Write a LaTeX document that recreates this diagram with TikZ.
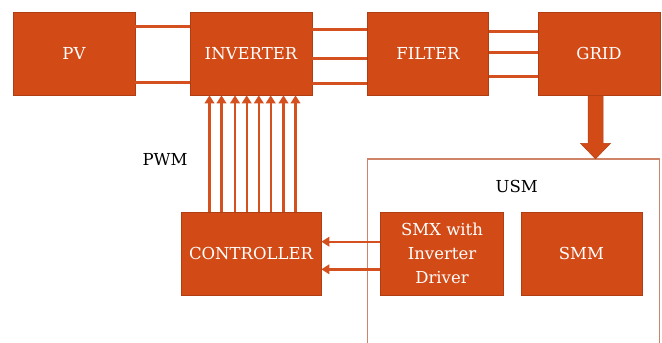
\documentclass[tikz,border=0pt]{standalone}
\usepackage{fontspec}
\setmainfont{DejaVu Serif}
\usetikzlibrary{arrows.meta}
\definecolor{boxfill}{HTML}{D24B17}
\definecolor{boxedge}{HTML}{B03E12}
\definecolor{wire}{HTML}{D4501E}
\definecolor{usmedge}{HTML}{CF8468}
\tikzset{
  blockbox/.style={rectangle, fill=boxfill, draw=boxedge, line width=0.7pt,
    minimum height=83pt, inner sep=2pt, text=white, align=center,
    font=\fontsize{16.5}{24}\selectfont},
  wireline/.style={draw=wire, line width=3pt},
  pwmarrow/.style={draw=wire, line width=2.4pt, -{Triangle[width=9.5pt,length=8pt]}},
  plainlabel/.style={text=black, font=\fontsize{16.5}{19}\selectfont, inner sep=0pt}
}
\begin{document}
\begin{tikzpicture}[x=1pt,y=1pt]
\useasboundingbox (0,0) rectangle (662,-343);
% top row
\node[blockbox, minimum width=122pt] (pv) at (74,-53.5) {PV};
\node[blockbox, minimum width=122pt] (inv) at (251,-53.5) {INVERTER};
\node[blockbox, minimum width=121pt] (flt) at (428,-53.5) {FILTER};
\node[blockbox, minimum width=122pt] (grid) at (599,-53.5) {GRID};
% bottom row
\node[blockbox, minimum width=140pt] (ctrl) at (251,-253.7) {CONTROLLER};
\node[blockbox, minimum width=122.6pt] (smx) at (442,-253.7) {SMX with\\Inverter\\Driver};
\node[blockbox, minimum width=121pt] (smm) at (581.4,-253.7) {SMM};
% labels
\node[plainlabel] (pwm) at (165,-159) {PWM};
\node[plainlabel] (usm) at (516.7,-186) {USM};
% USM container
\coordinate (usmbl) at (367.3,-345);
\coordinate (usmtl) at (367.3,-159);
\coordinate (usmtr) at (659.3,-159);
\coordinate (usmbr) at (659.3,-345);
\draw[usmedge, line width=1.2pt] (usmbl) -- (usmtl) -- (usmtr) -- (usmbr);
% PV - inverter
\draw[wireline] ([yshift=27.5pt]pv.east) -- ([yshift=27.5pt]inv.west);
\draw[wireline] ([yshift=-29.2pt]pv.east) -- ([yshift=-29.2pt]inv.west);
% inverter - filter
\foreach \dy in {24.2,-4.8,-29.8}
  \draw[wireline] ([yshift=\dy pt]inv.east) -- ([yshift=\dy pt]flt.west);
% filter - grid
\foreach \dy in {22.5,1.2,-23.2}
  \draw[wireline] ([yshift=\dy pt]flt.east) -- ([yshift=\dy pt]grid.west);
% PWM arrows
\foreach \dx in {-41.5,-29.5,-16,-4.3,7.8,19.7,32.5,44.5}
  \draw[pwmarrow] ([xshift=\dx pt]ctrl.north) -- ([xshift=\dx pt]inv.south);
% SMX -> controller
\draw[pwmarrow] ([yshift=12pt]smx.west) -- ([yshift=12pt]ctrl.east);
\draw[pwmarrow] ([yshift=-15.6pt]smx.west) -- ([yshift=-15.6pt]ctrl.east);
% grid -> USM block arrow
\coordinate (ga) at ([xshift=-3.5pt]grid.south);
\fill[boxfill, draw=boxedge, line width=0.5pt]
  ([xshift=-7.5pt]ga) -- ([xshift=-7.5pt,yshift=-48pt]ga) -- ([xshift=-15pt,yshift=-48pt]ga)
  -- ([yshift=-63.5pt]ga) -- ([xshift=15pt,yshift=-48pt]ga) -- ([xshift=7.5pt,yshift=-48pt]ga)
  -- ([xshift=7.5pt]ga) -- cycle;
\end{tikzpicture}
\end{document}
